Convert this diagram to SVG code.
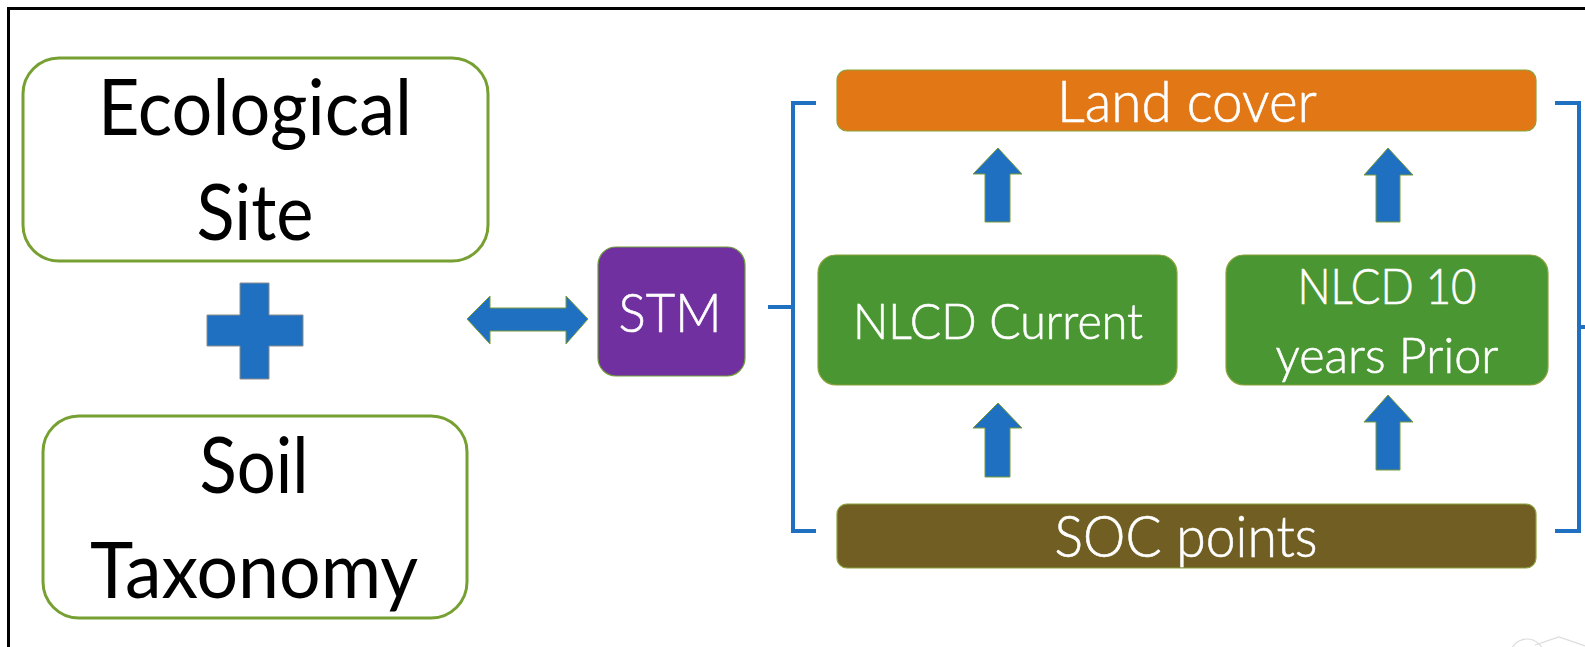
<svg xmlns="http://www.w3.org/2000/svg" width="1585" height="647" viewBox="0 0 1585 647">
<style>
.t{font-family:Lato,"Open Sans","Liberation Sans",sans-serif;text-anchor:middle}
.big{font-size:78px;fill:#000}
.w{fill:#fff;font-weight:300;stroke:#fff;stroke-width:0.6}
.ob{fill:#fff;stroke:#77A032;stroke-width:3}
.bl{fill:#1F70C1;stroke:#7A9A3A;stroke-width:1}
.br{fill:none;stroke:#1F70C1;stroke-width:4}
.fill{stroke:#8AA23A;stroke-width:1.2}
</style>
<rect width="1585" height="647" fill="#fff"/>
<path d="M8.5,647 V8.5 H1585" fill="none" stroke="#000" stroke-width="3"/>

<g id="ecological-site">
<rect class="ob" x="23" y="58" width="465" height="203" rx="36"/>
<text class="t big" x="255" y="135" textLength="314" lengthAdjust="spacingAndGlyphs">Ecological</text>
<text class="t big" x="255" y="240" textLength="117" lengthAdjust="spacingAndGlyphs">Site</text>
</g>

<g id="plus">
<path d="M240,283 H269 V315 H303 V346 H269 V379 H240 V346 H207 V315 H240 Z" fill="#1F70C1" stroke="#8C8C8C" stroke-width="1"/>
</g>

<g id="soil-taxonomy">
<rect class="ob" x="43" y="416" width="424" height="202" rx="36"/>
<text class="t big" x="254" y="493" textLength="109" lengthAdjust="spacingAndGlyphs">Soil</text>
<text class="t big" x="254" y="598" textLength="328" lengthAdjust="spacingAndGlyphs">Taxonomy</text>
</g>

<g id="stm">
<rect x="598" y="247" width="147" height="129" rx="18" fill="#7030A0" stroke="#6E9E3A" stroke-width="1.2"/>
<text class="t w" x="670" y="332" font-size="54" textLength="103" lengthAdjust="spacingAndGlyphs">STM</text>
</g>

<g id="land-cover">
<rect class="fill" x="837" y="70" width="699" height="61" rx="10" fill="#E27716"/>
<text class="t w" x="1187" y="122" font-size="57" textLength="260" lengthAdjust="spacingAndGlyphs">Land cover</text>
</g>

<g id="nlcd-current">
<rect class="fill" x="818" y="255" width="359" height="130" rx="18" fill="#4A9632"/>
<text class="t w" x="998" y="339" font-size="50" textLength="290" lengthAdjust="spacingAndGlyphs">NLCD Current</text>
</g>

<g id="nlcd-prior">
<rect class="fill" x="1226" y="255" width="322" height="130" rx="18" fill="#4A9632"/>
<text class="t w" x="1387" y="304" font-size="50" textLength="179" lengthAdjust="spacingAndGlyphs">NLCD 10</text>
<text class="t w" x="1387" y="373" font-size="50" textLength="223" lengthAdjust="spacingAndGlyphs">years Prior</text>
</g>

<g id="soc-points">
<rect class="fill" x="837" y="504" width="699" height="64" rx="10" fill="#705E23"/>
<text class="t w" x="1186" y="557" font-size="58" textLength="263" lengthAdjust="spacingAndGlyphs">SOC points</text>
</g>

<g id="connectors">
<path class="bl" d="M467,319 L490,296 V308 H566 V296 L588,319 L566,344 V331 H490 V344 Z" stroke="#8C8C8C"/>
<path class="br" d="M768,307 H793 M816,103 H793 V531 H816"/>
<path class="br" d="M1555,103 H1579 V531 H1555 M1579,327 H1585"/>
<path class="bl" d="M998,148 L1022,174 H1010 V222 H985 V174 H973 Z"/>
<path class="bl" d="M1388,148 L1413,175 H1400 V222 H1376 V175 H1364 Z"/>
<path class="bl" d="M998,403 L1022,428 H1010 V477 H985 V428 H973 Z"/>
<path class="bl" d="M1388,395 L1413,422 H1400 V470 H1376 V422 H1364 Z"/>
</g>

<g id="watermark" fill="none" stroke="#DCDCDC" stroke-width="1.2">
<circle cx="1527" cy="656" r="17"/>
<path d="M1535,645 L1559,637 L1585,646"/>
</g>
</svg>
